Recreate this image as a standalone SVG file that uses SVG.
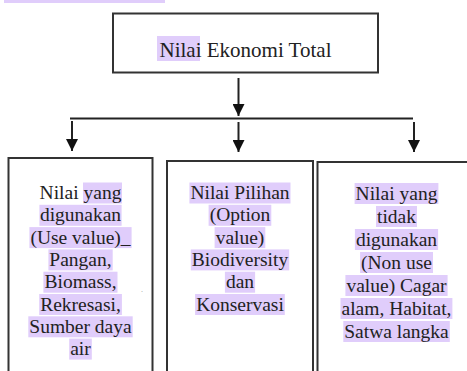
<svg xmlns="http://www.w3.org/2000/svg" width="467" height="371" viewBox="0 0 467 371">
<style>
.box{fill:#fff;stroke:#333;stroke-width:2}
.hl{fill:#e0cdfb}
.t{font-family:"Liberation Serif","Times New Roman",serif;font-size:19.5px;fill:#222;text-anchor:middle}
.tt{font-family:"Liberation Serif","Times New Roman",serif;font-size:21px;fill:#222;text-anchor:middle}
.c{stroke:#222;stroke-width:2;fill:none}
</style>
<defs>
<marker id="ah" markerUnits="userSpaceOnUse" viewBox="0 0 12 12" refX="12" refY="6" markerWidth="12" markerHeight="12" orient="auto">
<path d="M0,0 L12,6 L0,12 z" fill="#111"/>
</marker>
</defs>
<rect width="467" height="371" fill="#fff"/>
<rect class="hl" x="4" y="0" width="161" height="3"/>

<g id="node-total">
<rect class="box" x="113" y="13.5" width="265" height="59"/>
<rect class="hl" x="157" y="36" width="43" height="25"/>
<text class="tt" x="245.5" y="56.5">Nilai Ekonomi Total</text>
</g>

<g id="connectors">
<line class="c" x1="238.5" y1="78" x2="238.5" y2="116" marker-end="url(#ah)"/>
<line class="c" x1="70" y1="118.5" x2="413" y2="118.5"/>
<line class="c" x1="72" y1="121" x2="72" y2="151" marker-end="url(#ah)"/>
<line class="c" x1="238.5" y1="122" x2="238.5" y2="152" marker-end="url(#ah)"/>
<line class="c" x1="414" y1="122" x2="414" y2="152" marker-end="url(#ah)"/>
</g>

<g id="node-use">
<rect class="box" x="8.5" y="158" width="144" height="230"/>
<rect class="hl" x="83" y="182.5" width="39" height="21"/>
<rect class="hl" x="39.4" y="204.8" width="82.2" height="21"/>
<rect class="hl" x="29.4" y="227.1" width="102.2" height="21"/>
<rect class="hl" x="48.4" y="249.4" width="64.3" height="21"/>
<rect class="hl" x="43.4" y="271.7" width="74.1" height="21"/>
<rect class="hl" x="39.2" y="294" width="82.7" height="21"/>
<rect class="hl" x="28.3" y="316.3" width="104.4" height="21"/>
<rect class="hl" x="69.2" y="338.6" width="22.6" height="21"/>
<text class="t" x="80.5" y="199">Nilai yang</text>
<text class="t" x="80.5" y="221.3">digunakan</text>
<text class="t" x="80.5" y="243.6">(Use value)_</text>
<text class="t" x="80.5" y="265.9">Pangan,</text>
<text class="t" x="80.5" y="288.2">Biomass,</text>
<text class="t" x="80.5" y="310.5">Rekresasi,</text>
<text class="t" x="80.5" y="332.8">Sumber daya</text>
<text class="t" x="80.5" y="355.1">air</text>
<text x="141" y="292" font-family="Liberation Serif, serif" font-size="8" fill="#999">.</text>
</g>

<g id="node-option">
<rect class="box" x="167" y="161" width="146" height="230"/>
<rect class="hl" x="189.4" y="182.5" width="101.1" height="21"/>
<rect class="hl" x="208.6" y="204.8" width="62.7" height="21"/>
<rect class="hl" x="214.6" y="227.1" width="50.7" height="21"/>
<rect class="hl" x="190.8" y="249.4" width="98.4" height="21"/>
<rect class="hl" x="224.9" y="271.7" width="30.2" height="21"/>
<rect class="hl" x="195.1" y="294" width="89.7" height="21"/>
<text class="t" x="240" y="199">Nilai Pilihan</text>
<text class="t" x="240" y="221.3">(Option</text>
<text class="t" x="240" y="243.6">value)</text>
<text class="t" x="240" y="265.9">Biodiversity</text>
<text class="t" x="240" y="288.2">dan</text>
<text class="t" x="240" y="310.5">Konservasi</text>
</g>

<g id="node-nonuse">
<rect class="box" x="317.5" y="162" width="170" height="230"/>
<rect class="hl" x="354.6" y="183" width="83.8" height="21"/>
<rect class="hl" x="376" y="206" width="41" height="21"/>
<rect class="hl" x="354.9" y="229" width="83.2" height="21"/>
<rect class="hl" x="360.1" y="252" width="72.9" height="21"/>
<rect class="hl" x="345.4" y="275" width="102.2" height="21"/>
<rect class="hl" x="340.5" y="298" width="111.9" height="21"/>
<rect class="hl" x="343.3" y="321" width="106.5" height="21"/>
<text class="t" x="396.5" y="199.5">Nilai yang</text>
<text class="t" x="396.5" y="222.5">tidak</text>
<text class="t" x="396.5" y="245.5">digunakan</text>
<text class="t" x="396.5" y="268.5">(Non use</text>
<text class="t" x="396.5" y="291.5">value) Cagar</text>
<text class="t" x="396.5" y="314.5">alam, Habitat,</text>
<text class="t" x="396.5" y="337.5">Satwa langka</text>
</g>
</svg>
